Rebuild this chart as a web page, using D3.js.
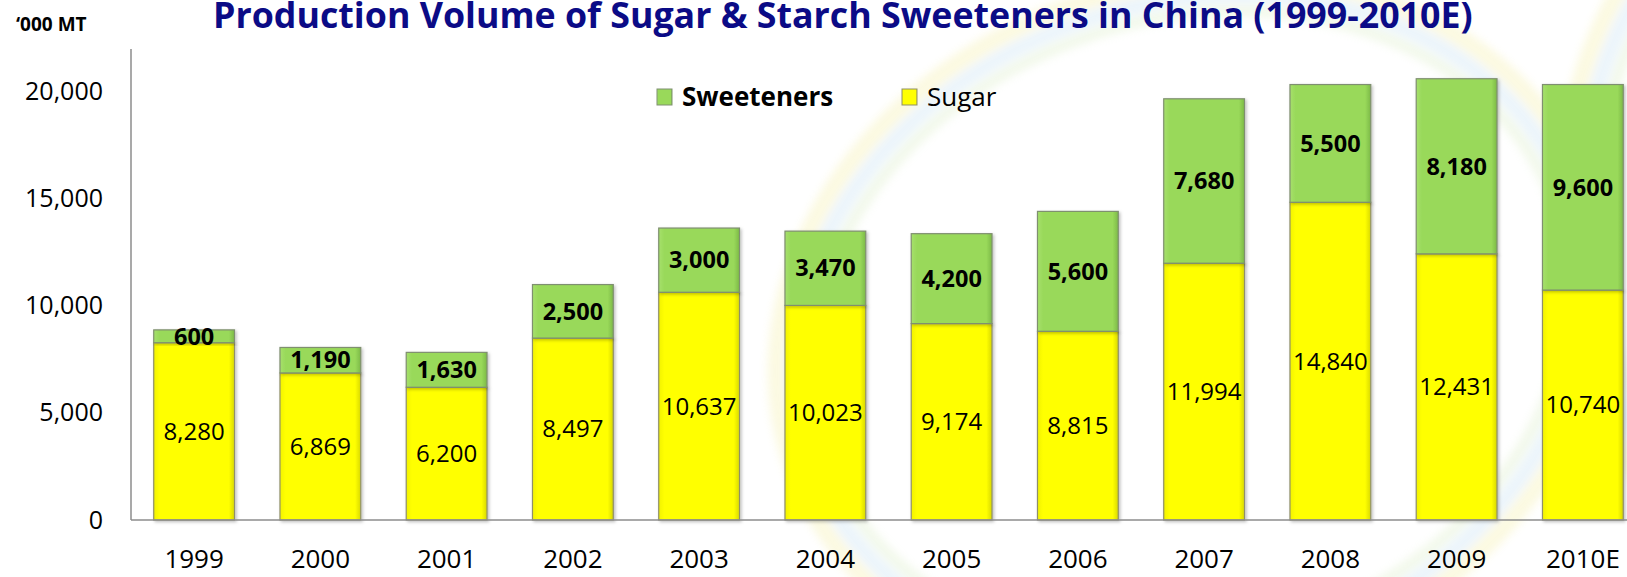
<!DOCTYPE html>
<html>
<head>
<meta charset="utf-8">
<script src="https://cdn.jsdelivr.net/npm/d3@7"></script>
<style>
  html, body { margin: 0; padding: 0; background: #fff; }
  svg { display: block; font-family: "Open Sans", sans-serif; }
</style>
</head>
<body>
<svg id="chart" width="1627" height="577"></svg>
<script>
const years = ["1999", "2000", "2001", "2002", "2003", "2004", "2005", "2006", "2007", "2008", "2009", "2010E"];
const sugar = [8280, 6869, 6200, 8497, 10637, 10023, 9174, 8815, 11994, 14840, 12431, 10740];
const sweeteners = [600, 1190, 1630, 2500, 3000, 3470, 4200, 5600, 7680, 5500, 8180, 9600];
const yTicks = [0, 5000, 10000, 15000, 20000];
const seriesNames = ["Sweeteners", "Sugar"];

const svg = d3.select("#chart");
const width = 1627, height = 577;
const margin = {left: 131, right: -19, top: 49, bottom: 57};

const x = d3.scaleBand()
  .domain(years)
  .range([margin.left, width - margin.right])
  .paddingInner(0.36)
  .paddingOuter(0.18);

const y = d3.scaleLinear()
  .domain([0, 22000])
  .range([height - margin.bottom, margin.top]);

const fmt = d3.format(",");

const defs = svg.append("defs");

// faint background swoosh, like the slide template behind the chart
defs.append("filter").attr("id", "soft")
  .append("feGaussianBlur").attr("stdDeviation", 4);
const bg = svg.append("g").attr("fill", "none").attr("opacity", 0.22).attr("filter", "url(#soft)");
[
  {c: "#efe67a", r: 0, w: 18},
  {c: "#a9d2ee", r: 18, w: 16},
  {c: "#c6e3a6", r: 34, w: 12}
].forEach(s => {
  bg.append("ellipse")
    .attr("cx", 1190).attr("cy", 330)
    .attr("rx", 420 - s.r).attr("ry", 345 - s.r)
    .attr("transform", "rotate(-18,1190,330)")
    .attr("stroke", s.c).attr("stroke-width", s.w);
  bg.append("ellipse")
    .attr("cx", 1900).attr("cy", 260)
    .attr("rx", 330 - s.r).attr("ry", 420 - s.r)
    .attr("transform", "rotate(-15,1900,260)")
    .attr("stroke", s.c).attr("stroke-width", s.w);
});

// bevel-ish gradients
function bevel(id, edge, mid, dark) {
  const g = defs.append("linearGradient").attr("id", id).attr("x1", 0).attr("x2", 1).attr("y1", 0).attr("y2", 0);
  g.append("stop").attr("offset", "0%").attr("stop-color", edge);
  g.append("stop").attr("offset", "7%").attr("stop-color", mid);
  g.append("stop").attr("offset", "93%").attr("stop-color", mid);
  g.append("stop").attr("offset", "100%").attr("stop-color", dark);
}
bevel("gYellow", "#f2f200", "#ffff00", "#d8d800");
bevel("gGreen", "#a6e06c", "#99d95a", "#7cb947");

const shadow = defs.append("filter").attr("id", "shadow").attr("x", "-10%").attr("y", "-10%").attr("width", "130%").attr("height", "130%");
shadow.append("feDropShadow").attr("dx", 1.5).attr("dy", 1.5).attr("stdDeviation", 1.5).attr("flood-color", "#000").attr("flood-opacity", 0.25);

// title
const title = svg.append("text")
  .attr("x", 213)
  .attr("y", 28)
  .attr("fill", "#0b0b86")
  .attr("font-weight", "bold")
  .attr("font-size", 32)
  .text("Production Volume of Sugar & Starch Sweeteners in China (1999-2010E)");
const tw = title.node().getComputedTextLength();
title.attr("font-size", 32 * 1260 / tw);

// unit label
svg.append("text")
  .attr("x", 16)
  .attr("y", 31)
  .attr("font-weight", "bold")
  .attr("font-size", 19)
  .attr("fill", "#000")
  .text("‘000 MT");

// y axis
svg.append("g")
  .attr("transform", `translate(${margin.left},0)`)
  .call(d3.axisLeft(y).tickValues(yTicks).tickFormat(fmt).tickSize(0).tickPadding(28))
  .call(g => g.select(".domain").attr("stroke", "#8c8c8c").attr("stroke-width", 1.5)
    .attr("d", `M0,${y(0)}V${margin.top}`))
  .call(g => g.selectAll(".tick text").attr("font-size", 25).attr("fill", "#000")
    .attr("font-family", "'Open Sans', sans-serif"));

// bars
const stackData = years.map((yr, i) => ({year: yr, sugar: sugar[i], sweeteners: sweeteners[i]}));

const bars = svg.append("g");
bars.selectAll("rect.sugar")
  .data(stackData)
  .join("rect")
  .attr("class", "sugar")
  .attr("x", d => x(d.year))
  .attr("width", x.bandwidth())
  .attr("y", d => y(d.sugar))
  .attr("height", d => y(0) - y(d.sugar))
  .attr("fill", "url(#gYellow)")
  .attr("stroke", "#8f8f6a")
  .attr("stroke-width", 1.2)
  .attr("filter", "url(#shadow)");

bars.selectAll("rect.sweet")
  .data(stackData)
  .join("rect")
  .attr("class", "sweet")
  .attr("x", d => x(d.year))
  .attr("width", x.bandwidth())
  .attr("y", d => y(d.sugar + d.sweeteners))
  .attr("height", d => y(d.sugar) - y(d.sugar + d.sweeteners))
  .attr("fill", "url(#gGreen)")
  .attr("stroke", "#7f8f70")
  .attr("stroke-width", 1.2)
  .attr("filter", "url(#shadow)");

// x axis baseline
svg.append("line")
  .attr("x1", margin.left)
  .attr("x2", width)
  .attr("y1", y(0))
  .attr("y2", y(0))
  .attr("stroke", "#8c8c8c")
  .attr("stroke-width", 1.5);

svg.append("g")
  .attr("transform", `translate(0,${y(0)})`)
  .call(d3.axisBottom(x).tickSize(0).tickPadding(30))
  .call(g => g.select(".domain").remove())
  .call(g => g.selectAll(".tick text").attr("font-size", 26).attr("fill", "#000")
    .attr("font-family", "'Open Sans', sans-serif"));

// value labels
svg.append("g").selectAll("text")
  .data(stackData)
  .join("text")
  .attr("x", d => x(d.year) + x.bandwidth() / 2)
  .attr("y", d => (y(0) + y(d.sugar)) / 2)
  .attr("dy", "0.35em")
  .attr("text-anchor", "middle")
  .attr("font-size", 24)
  .attr("fill", "#000")
  .text(d => fmt(d.sugar));

svg.append("g").selectAll("text")
  .data(stackData)
  .join("text")
  .attr("x", d => x(d.year) + x.bandwidth() / 2)
  .attr("y", d => (y(d.sugar) + y(d.sugar + d.sweeteners)) / 2)
  .attr("dy", "0.35em")
  .attr("text-anchor", "middle")
  .attr("font-size", 23.5)
  .attr("font-weight", "bold")
  .attr("fill", "#000")
  .text(d => fmt(d.sweeteners));

// legend
const legend = svg.append("g").attr("transform", "translate(657,89)");
const legendItems = [
  {name: seriesNames[0], fill: "url(#gGreen)", stroke: "#7f8f70", bold: true, x: 0},
  {name: seriesNames[1], fill: "url(#gYellow)", stroke: "#8f8f6a", bold: false, x: 245}
];
const li = legend.selectAll("g")
  .data(legendItems)
  .join("g")
  .attr("transform", d => `translate(${d.x},0)`);
li.append("rect")
  .attr("width", 15)
  .attr("height", 16)
  .attr("fill", d => d.fill)
  .attr("stroke", d => d.stroke)
  .attr("stroke-width", 1);
li.append("text")
  .attr("x", 25)
  .attr("y", 8)
  .attr("dy", "0.36em")
  .attr("font-size", 26)
  .attr("font-weight", d => d.bold ? "bold" : "normal")
  .attr("fill", "#000")
  .text(d => d.name);
</script>
</body>
</html>
